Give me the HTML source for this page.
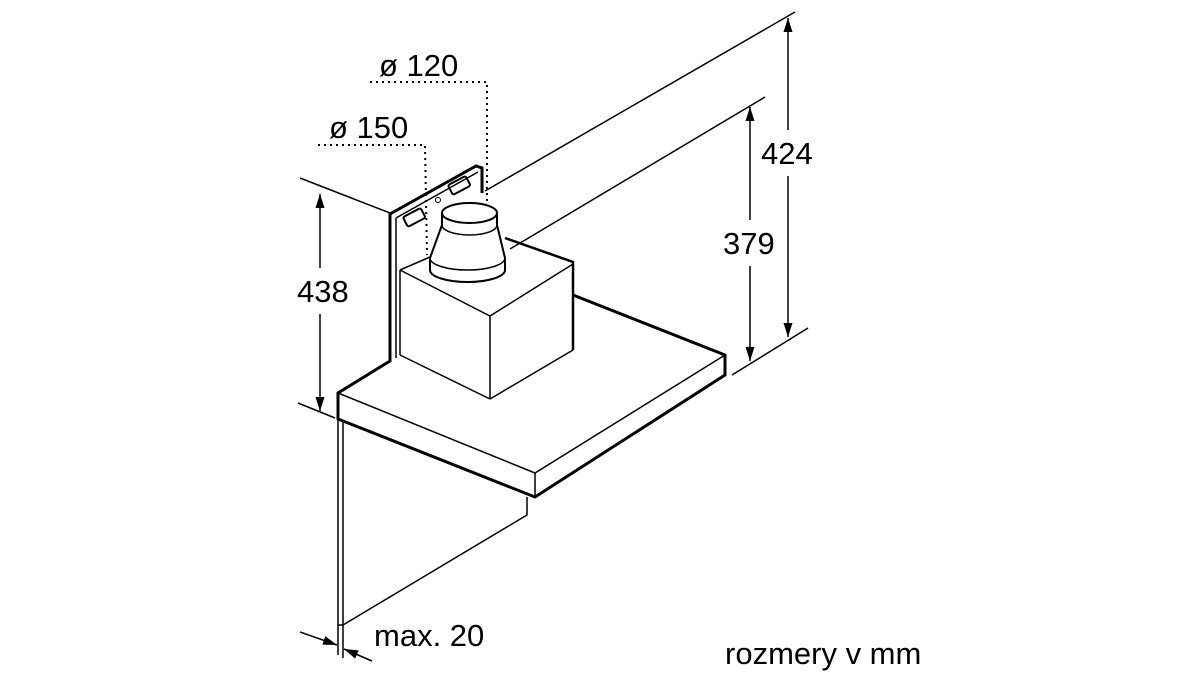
<!DOCTYPE html>
<html><head><style>
html,body{margin:0;padding:0;background:#fff;}
svg{display:block;}
text{font-family:"Liberation Sans",Arial,sans-serif;fill:#000;}
</style></head><body>
<svg width="1200" height="674" viewBox="0 0 1200 674" xmlns="http://www.w3.org/2000/svg">
<defs>
<marker id="a" viewBox="0 0 14 10" refX="14" refY="5" markerWidth="14" markerHeight="10" markerUnits="userSpaceOnUse" orient="auto-start-reverse">
<path d="M0,0.5 L14,5 L0,9.5 z" fill="#000"/></marker>
</defs>
<g stroke="#000" fill="none" stroke-width="1.5">
<line x1="300" y1="178" x2="390" y2="213"/>
<line x1="298" y1="403" x2="335" y2="418"/>
<line x1="485" y1="191" x2="795" y2="12"/>
<line x1="510" y1="249" x2="765" y2="97"/>
<line x1="732" y1="375" x2="808" y2="328"/>
<line x1="320" y1="194" x2="320" y2="268" marker-start="url(#a)"/>
<line x1="320" y1="314" x2="320" y2="411" marker-end="url(#a)"/>
<line x1="788" y1="18" x2="788" y2="130" marker-start="url(#a)"/>
<line x1="788" y1="176" x2="788" y2="337" marker-end="url(#a)"/>
<line x1="750" y1="107" x2="750" y2="220" marker-start="url(#a)"/>
<line x1="750" y1="266" x2="750" y2="361" marker-end="url(#a)"/>
<line x1="300" y1="632" x2="337" y2="645" marker-end="url(#a)"/>
<line x1="372" y1="661" x2="344" y2="649" marker-end="url(#a)"/>
<line x1="338" y1="625" x2="338" y2="655"/>
<line x1="343" y1="625" x2="343" y2="658"/>
<line x1="338" y1="418" x2="338" y2="625"/>
<line x1="343" y1="420" x2="343" y2="625"/>
<line x1="338" y1="625" x2="343" y2="625"/>
<polyline points="343,625 527,515 527,497"/>
<polyline points="390,362 390,214 476,166 482,168 482,193" stroke-width="3"/>
<line x1="396" y1="218" x2="396" y2="358"/>
<line x1="396" y1="218" x2="478" y2="172"/>
<rect x="404" y="212" width="20" height="11" rx="2" transform="rotate(-28 414 217)" stroke-width="2"/>
<rect x="449" y="180" width="20" height="11" rx="2" transform="rotate(-28 459 185)" stroke-width="2"/>
<circle cx="438" cy="200" r="2.5" stroke-width="1"/>
<polyline points="400,270 400,355"/>
<polyline points="400,270 490,316 573,264"/>
<polyline points="400,270 430,257"/>
<polyline points="505,238 573,262 573,350" stroke-width="2.5"/>
<line x1="490" y1="316" x2="490" y2="399"/>
<path d="M442,213 L442,225 L430,258 L430,270 A37.5,12 0 0 0 505,270 L505,258 L497,225 L497,213" fill="#fff" stroke-width="2"/>
<path d="M430,258 A37.5,12 0 0 0 505,258"/>
<path d="M442,225 A27.5,10 0 0 0 497,225"/>
<ellipse cx="469.5" cy="213" rx="27.5" ry="10" fill="#fff" stroke-width="2"/>
<polyline points="390,361 338,393 338,420" stroke-width="3"/>
<polyline points="573,295 725,355 725,375 535,497 338,419" stroke-width="3"/>
<polyline points="338,393 535,473 725,355"/>
<line x1="535" y1="473" x2="535" y2="497"/>
<line x1="400" y1="355" x2="490" y2="399"/>
<line x1="490" y1="399" x2="573" y2="350"/>
<polyline points="370,82 487,82 487,205" stroke-dasharray="2,4" stroke-width="2"/>
<polyline points="318,145 425,145 427,255" stroke-dasharray="2,4" stroke-width="2"/>
</g>
<g font-size="31">
<text x="379" y="76">ø 120</text>
<text x="329" y="138">ø 150</text>
<text x="297" y="302">438</text>
<text x="761" y="164">424</text>
<text x="723" y="254">379</text>
<text x="374" y="646">max. 20</text>
<text x="725" y="664">rozmery v mm</text>
</g>
</svg>
</body></html>
